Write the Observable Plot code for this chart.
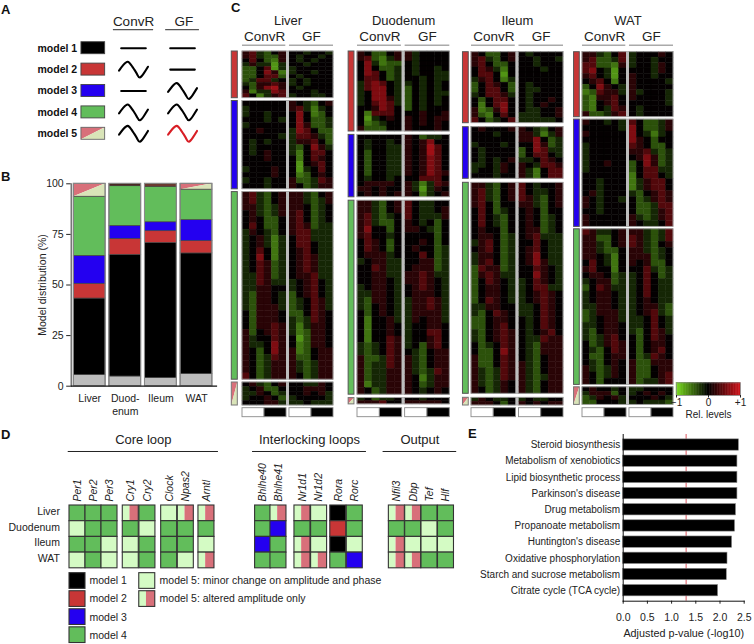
<!DOCTYPE html>
<html><head><meta charset="utf-8">
<script src="https://cdn.jsdelivr.net/npm/d3@7"></script>
<script src="https://cdn.jsdelivr.net/npm/@observablehq/plot@0.6"></script>
<style>
html,body{margin:0;padding:0;background:#fff}
#root{position:relative;width:754px;height:644px;overflow:hidden;font-family:"Liberation Sans",Arial,sans-serif;color:#222}
#root svg{position:absolute;overflow:visible;background:transparent;font-family:"Liberation Sans",Arial,sans-serif}
.tag{position:absolute;font-weight:bold;font-size:13px;line-height:13px;color:#111}
</style></head><body><div id="root"></div>
<script>
// ---------- shared ----------
const GREEN="#62bd5b",RED="#c83636",BLUE="#2400f0",BLACK="#000",PINK="#d8707a",CREAM="#d9e4b8",LIGHT="#d4fbc4",GRAY="#bdbdbd";
const modelNames=["model 1","model 2","model 3","model 4","model 5"];
const modelColors=[BLACK,RED,BLUE,GREEN,null];

// ---------- panel A ----------
const convRProfile=["flat","wave","flat","wave","wave"];
const gfProfile=["flat","flat","wave","wave","redwave"];
const waveShape=[[-1,-.12],[-.7,.6],[-.4,1],[-.15,.55],[.07,-.04],[.25,-.6],[.44,-1],[.72,-.45],[1,.36]];
const flatShape=[[-.85,0],[.85,0]];

// ---------- panel B ----------
const tissuesB=["Liver","Duod-\nenum","Ileum","WAT"];
const shareGray=[5.6,4.8,4.1,6.1];
const shareModel1=[37.7,60.1,66.7,59.5];
const shareModel2=[7.3,7.9,5.8,6.1];
const shareModel3=[13.8,6.4,4.4,10.4];
const shareModel4=[29.2,19.6,17.5,15.0];
const shareModel5=[6.4,1.2,1.5,2.9];

// ---------- panel C: each string is one band of genes, 6 ConvR + 6 GF time points, level 1 (green) .. 5 (black) .. 9 (red)
const levelValue=[-.66,-.52,-.36,-.17,0.02,.2,.4,.62,.78];
const liverModel2=["674356554554","674336545545","575326545455","464414554555","335714455555","335862455455","335773545555","347745454555","436676454555","536896545555","624487555455","752467455445"];
const liverModel3=["555555654356","455555674245","455455585235","555454585334","455555586334","556555487533","555554477643","545455466753","545555435864","545655425775","555655525765","555555515675","455565514575","555565523565","455455633476","555455653466"];
const liverModel4=["674356664356","674356664346","664346665345","564346675345","565335675345","575335676344","465435677444","456424577444","456424577544","457524567544","458524567644","457634567644","457634567644","447634566744","447644456754","446655456754","436654356754","436654345764","436664345764","536665335765","536665434765","536676424665","635676423665","645576513665","644586523665","653586623566","653476633566","653466643466","653466643466","753466653466"];
const liverModel5=["564356554465","456335556665","446534556564","455653455554","555664445444"];
const duodModel2=["653356645555","673246645555","584233545555","585334545545","587534545544","577534554544","478754454545","478854354545","458854354544","458864354545","457874354545","556875354555","527775556556","514565656566","523455656565","633355655565"];
const duodModel3=["555555653445","545545656855","545544656975","535544656975","535544656875","535544656875","535544656875","535544656876","545545557775","566665642476","665655641465","565656652456"];
const duodModel4=["664356754455","664356754456","674345754446","674335654535","685535665435","675545555535","576535556535","576535565534","566645557534","456644556634","557644566634","556644667644","556654667654","456654567654","446654566654","436654466764","435654466764","535654466664","525564465664","525565455665","525565455775","525576455675","434576453675","434576543566","633476643566","634476643566","634466643476","634466652466","624466653466","653466654565"];
const duodModel5=["453445554555","666755666665"];
const ileumModel2=["653356545555","674356554554","675335554555","576425555455","577515555555","467524555555","357653545555","357753544555","457764545555","535775545565","525785545655","623685544556","632575444556","753457444445"];
const ileumModel3=["565556654356","555455664246","555555668534","455545558634","545555358744","545555357754","545456445765","445465654776","455465642577","555455642577"];
const ileumModel4=["664356754556","674356754456","674356764356","675355664356","575345565355","575435565345","575435565345","565535566345","566534567444","467534557544","567534567544","466534568544","467534568644","376634557654","367644558654","357654457654","356654457744","356654456765","357654456765","446655445765","435765445765","335665545765","335675545765","435676545675","435676544766","534576543666","533586543666","633576543566","633576643566","643476643566","643476643466","643465643566","653465643566"];
const ileumModel5=["465445454455","666535656566"];
const watModel2=["664357455565","673347455455","773326455465","785415555465","675415655455","567525655554","358654655555","237664645554","326675655554","325675555554","325476545555","633467545555"];
const watModel3=["655454753346","555554853346","655555854245","555555865355","455555765335","455555667434","455555568634","455655358634","455555357744","555555257754","554555246775","554555246775","564555435676","654554534676","654555533477","554555533467","655555643467","655555654457"];
const watModel4=["764456664347","663356764347","664356764356","664335664345","665425666345","575425656335","675525557434","566534457534","456634457544","357644457544","456654457544","456654456544","446654456643","346664456743","345664445754","445665445754","435665435764","434675535765","534676535665","543576535675","533566534765","543565633666","643465633566","653465633567","653555634467"];
const watModel5=["565545445555","466635456565","346564555654","335554454443"];

const tissueTitle=["Liver","Duodenum","Ileum","WAT"];
const conditions=["ConvR","GF"];
const lightPhase=["light","dark"];
const geneCounts=[
  [46.7,88.3,187.6,23],
  [80,62.4,194,6.3],
  [71,51.6,211,7.7],
  [65,107.3,155.6,17.6]
];
const tissueRows=[
  [liverModel2,liverModel3,liverModel4,liverModel5],
  [duodModel2,duodModel3,duodModel4,duodModel5],
  [ileumModel2,ileumModel3,ileumModel4,ileumModel5],
  [watModel2,watModel3,watModel4,watModel5]
];
const blockModels=[1,2,3,4];

// ---------- panel D ----------
const genes=["Per1","Per2","Per3","Cry1","Cry2","Clock","Npas2","Arntl","Bhlhe40","Bhlhe41","Nr1d1","Nr1d2","Rora","Rorc","Nfil3","Dbp","Tef","Hlf"];
const geneGroups=["Core loop","Interlocking loops","Output"];
const tissueD=["Liver","Duodenum","Ileum","WAT"];
const liverGenes=["4","4","4","a","4","m","a","a","4","a","a","m","1","4","a","a","4","4"];
const duodGenes=["m","4","4","4","m","4","4","4","4","3","4","4","2","4","4","4","m","4"];
const ileumGenes=["4","4","m","m","4","4","4","m","3","4","a","m","1","m","a","m","m","m"];
const watGenes=["m","4","m","m","4","4","m","a","4","4","a","a","4","3","a","a","4","4"];

// ---------- panel E ----------
const pathways=["Steroid biosynthesis","Metabolism of xenobiotics","Lipid biosynthetic process","Parkinson's disease","Drug metabolism","Propanoate metabolism","Huntington's disease","Oxidative phosphorylation","Starch and sucrose metabolism","Citrate cycle (TCA cycle)"];
const adjustedP=[2.39,2.36,2.36,2.36,2.33,2.31,2.25,2.155,2.14,1.96];

// ---------- helpers ----------
const root=document.getElementById("root");
function place(svg,left,top){svg.style.left=left+"px";svg.style.top=top+"px";root.appendChild(svg);}
function tag(t,l,y){const s=document.createElement("span");s.className="tag";s.textContent=t;s.style.left=l+"px";s.style.top=y+"px";root.appendChild(s);}
// model 5 glyph: red upper-left triangle, cream lower-right triangle
function splitBox(x0,x1,yTop,yBot,stroke,sw){
  return [
    Plot.areaY([{x:x0,a:yBot,b:yTop},{x:x1,a:yTop,b:yTop}],{x:"x",y1:"a",y2:"b",fill:PINK}),
    Plot.areaY([{x:x0,a:yBot,b:yBot},{x:x1,a:yBot,b:yTop}],{x:"x",y1:"a",y2:"b",fill:CREAM}),
    Plot.rect([{x0,x1,yTop,yBot}],{x1:"x0",x2:"x1",y1:"yTop",y2:"yBot",fill:"none",stroke,strokeWidth:sw})
  ];
}

// ---------- draw A ----------
(function(){
  const col={swatch:0,ConvR:1,GF:2.22};
  const halfW=.36,rowAmp=.37;
  const glyph=(profile,c)=>{
    const out=[];
    profile.forEach((kind,r)=>{
      const shape=kind==="flat"?flatShape:waveShape;
      const stroke=kind==="redwave"?"#d81e25":"#000";
      out.push(Plot.line(shape,{x:d=>c+d[0]*halfW,y:d=>r-d[1]*rowAmp,curve:"natural",stroke,strokeWidth:2.1}));
    });
    return out;
  };
  const swatch=.295,swH=.28;
  const marks=[
    Plot.text(modelNames,{x:()=>-.4,y:(d,i)=>i,text:d=>d,textAnchor:"end",fontWeight:"bold",fontSize:10.5,fill:"#111"}),
    ...modelColors.slice(0,4).map((c,i)=>Plot.rect([i],{x1:()=>-swatch,x2:()=>swatch,y1:d=>d-swH,y2:d=>d+swH,fill:c,stroke:"#444",strokeWidth:.9})),
    ...splitBox(-swatch,swatch,4-swH,4+swH,"#666",.9),
    ...glyph(convRProfile,col.ConvR),
    ...glyph(gfProfile,col.GF),
    Plot.text(conditions,{x:(d,i)=>i?col.GF+.03:col.ConvR,y:()=>-1.22,text:d=>d,fontSize:13.5,fill:"#222"}),
    Plot.ruleY(conditions,{x1:(d,i)=>i?col.GF-.42:col.ConvR-.5,x2:(d,i)=>i?col.GF+.42:col.ConvR+.5,y:()=>-.87,stroke:"#555",strokeWidth:1.1})
  ];
  place(Plot.plot({width:220,height:160,margin:0,
    x:{domain:[0,1],range:[92.8,133]},y:{domain:[0,1],range:[47.7,69.1]},axis:null,marks}),0,0);
})();

// ---------- draw B ----------
(function(){
  const series=[["gray",shareGray,GRAY],["m1",shareModel1,BLACK],["m2",shareModel2,RED],["m3",shareModel3,BLUE],["m4",shareModel4,GREEN]];
  const half=.447;
  const marks=[];
  tissuesB.forEach((t,i)=>{
    let c=0;
    series.forEach(([n,arr,col])=>{
      const y1=c,y2=c+arr[i];c=y2;
      marks.push(Plot.rect([{i,y1,y2}],{x1:d=>d.i-half,x2:d=>d.i+half,y1:"y1",y2:"y2",fill:col,stroke:"#444",strokeWidth:.7}));
    });
    if(i===0||i===3) marks.push(...splitBox(i-half,i+half,100,c,"#444",.7));
    else marks.push(Plot.rect([{i,c}],{x1:d=>d.i-half,x2:d=>d.i+half,y1:"c",y2:()=>100,fill:i===1?"#4a2a22":"#6a3a30",stroke:"#333",strokeWidth:.4}));
    marks.push(Plot.rect([i],{x1:d=>d-half,x2:d=>d+half,y1:()=>0,y2:()=>100,fill:"none",stroke:"#8a8a8a",strokeWidth:1.1}));
  });
  place(Plot.plot({width:220,height:240,marginLeft:70.7,marginRight:4,marginTop:8.3,marginBottom:29.3,
    x:{domain:[0,3],range:[89.2,196]},y:{domain:[0,100]},
    marks:[...marks,
      Plot.axisY({ticks:[0,25,50,75,100],tickSize:4.5,tickPadding:3,fontSize:10.5,label:"Model distribution (%)",labelAnchor:"center",labelArrow:"none",labelOffset:33}),
      Plot.axisX({ticks:[0,1,2,3],tickFormat:i=>tissuesB[i],tickSize:0,tickPadding:7,fontSize:10.5,lineHeight:1.2,label:null}),
      Plot.frame({anchor:"left",stroke:"#555",strokeWidth:1.2}),
      Plot.frame({anchor:"bottom",stroke:"#111",strokeWidth:1.2})
    ]}),0,175);
})();

// ---------- draw C ----------
const heatColor={type:"linear",domain:[-1,0,1],range:["#7be01e","#000","#cc141c"]};
(function(){
  const heatLeft=[241.7,357,470.7,581.7],heatWidth=[91,92.3,92,91];
  const sideNear=[.64,.41,.37,.37],sideFar=[1.46,1.19,1.15,1.15];
  const gapAfter=[2.8,3.4,4,2.4],startAt=[0,0,.7,.7];
  const dividerEnd=6.4,colsEnd=12.4;
  tissueTitle.forEach((title,t)=>{
    const cells=[],blocks=[];
    let y=startAt[t];
    tissueRows[t].forEach((rows,b)=>{
      const h=geneCounts[t][b],rh=h/rows.length;
      rows.forEach((s,r)=>{
        [...s].forEach((ch,c)=>{
          cells.push({x1:c<6?c:c+.4,x2:(c<6?c:c+.4)+1,y1:y+r*rh,y2:y+(r+1)*rh,v:levelValue[+ch-1]});
        });
      });
      blocks.push({y1:y,y2:y+h,model:blockModels[b]});
      y+=h+gapAfter[t];
    });
    const marks=[
      Plot.rect(cells,{x1:"x1",x2:"x2",y1:"y1",y2:"y2",fill:"v",stroke:"v",strokeWidth:.45}),
      Plot.rect(blocks,{x1:()=>6,x2:()=>dividerEnd,y1:"y1",y2:"y2",fill:"#bdbdbd"}),
      Plot.rect(blocks,{x1:()=>0,x2:()=>colsEnd,y1:"y1",y2:"y2",fill:"none",stroke:"#a8a8a8",strokeWidth:.9})
    ];
    blocks.forEach(b=>{
      if(b.model===4) marks.push(...splitBox(-sideFar[t],-sideNear[t],b.y1,b.y2,"#777",1));
      else marks.push(Plot.rect([b],{x1:()=>-sideFar[t],x2:()=>-sideNear[t],y1:"y1",y2:"y2",fill:modelColors[b.model],stroke:"#555",strokeWidth:1}));
    });
    // light/dark bars
    const barTop=356.7,barBot=365.7;
    [0,dividerEnd].forEach(x0=>{
      lightPhase.forEach((ph,i)=>marks.push(Plot.rect([ph],{x1:()=>x0+i*3,x2:()=>x0+i*3+3,y1:()=>barTop,y2:()=>barBot,fill:ph==="light"?"#fff":"#000",stroke:"#8a8a8a",strokeWidth:.9})));
    });
    marks.push(
      Plot.text([title],{x:()=>dividerEnd-.2,y:()=>-30.3,text:d=>d,fontSize:13,fill:"#222"}),
      Plot.text(conditions,{x:(d,i)=>i?9.4:3,y:()=>-15.3,text:d=>d,fontSize:13.5,fill:"#222"}),
      Plot.ruleY(conditions,{x1:(d,i)=>i?dividerEnd:0,x2:(d,i)=>i?colsEnd:5.9,y:()=>-6.3,stroke:"#aaa",strokeWidth:1.4})
    );
    place(Plot.plot({width:heatWidth[t]+30,height:426,margin:0,axis:null,
      x:{domain:[0,colsEnd],range:[20,20+heatWidth[t]]},
      y:{domain:[-51,375],range:[0,426]},
      color:heatColor,marks}),heatLeft[t]-20,0);
  });
  // colour legend
  const stops=d3.range(-1,1,.05);
  place(Plot.plot({width:94,height:60,marginLeft:16,marginRight:14,marginTop:12.3,marginBottom:35,
    x:{domain:[-1,1]},color:heatColor,
    marks:[
      Plot.rect(stops,{x1:d=>d,x2:d=>d+.05,fill:d=>d+.025,stroke:d=>d+.025,strokeWidth:.5}),
      Plot.frame({stroke:"#888",strokeWidth:.8}),
      Plot.axisX({ticks:[-1,0,1],tickFormat:d=>d<0?"−1":d>0?"+1":"0",tickSize:2.5,tickPadding:1,fontSize:10,label:"Rel. levels",labelAnchor:"center",labelArrow:"none",labelOffset:22})
    ]}),660,370);
})();

// ---------- draw D ----------
(function(){
  const slot=[0,1,2,3.33,4.37,5.73,6.77,8.06,11.6,12.56,14.06,15.1,16.3,17.33,19.96,20.98,22,23.03];
  const tissueGenes=[liverGenes,duodGenes,ileumGenes,watGenes];
  const groupX1=[-.08,11.44,19.6],groupX2=[9.31,18.56,24.2];
  const modelFill={"1":BLACK,"2":RED,"3":BLUE,"4":GREEN,"m":LIGHT};
  const tile=(x,y,code,h=1)=>{
    if(code==="a") return [
      Plot.rect([0],{x1:()=>x,x2:()=>x+.45,y1:()=>y,y2:()=>y+h,fill:LIGHT}),
      Plot.rect([0],{x1:()=>x+.45,x2:()=>x+1,y1:()=>y,y2:()=>y+h,fill:PINK}),
      Plot.rect([0],{x1:()=>x,x2:()=>x+1,y1:()=>y,y2:()=>y+h,fill:"none",stroke:"#333",strokeWidth:1.1})
    ];
    return [Plot.rect([0],{x1:()=>x,x2:()=>x+1,y1:()=>y,y2:()=>y+h,fill:modelFill[code],stroke:"#333",strokeWidth:1.1})];
  };
  const marks=[];
  tissueGenes.forEach((row,r)=>row.forEach((code,g)=>marks.push(...tile(slot[g],r,code))));
  const legendLeft=["1","2","3","4"],legendRight=["m","a"];
  const legendRightText=["model 5: minor change on amplitude and phase","model 5: altered amplitude only"];
  legendLeft.forEach((c,i)=>marks.push(...tile(0,4.31+1.15*i,c)));
  legendRight.forEach((c,i)=>marks.push(...tile(4.36,4.31+1.15*i,c)));
  marks.push(
    Plot.text(genes,{x:(d,i)=>slot[i]+.5,y:()=>-.25,text:d=>d,rotate:-90,textAnchor:"start",fontStyle:"italic",fontSize:10.5,fill:"#222"}),
    Plot.text(tissueD,{x:()=>-.6,y:(d,i)=>i+.38,text:d=>d,textAnchor:"end",fontSize:10.5,fill:"#222"}),
    Plot.text(geneGroups,{x:(d,i)=>(groupX1[i]+groupX2[i])/2,y:()=>-4.2,text:d=>d,fontSize:13,fill:"#222"}),
    Plot.ruleY(geneGroups,{x1:(d,i)=>groupX1[i],x2:(d,i)=>groupX2[i],y:()=>-3.44,stroke:"#222",strokeWidth:1}),
    Plot.text(legendLeft,{x:()=>1.25,y:(d,i)=>4.81+1.15*i,text:d=>modelNames[+d-1],textAnchor:"start",fontSize:10.5,fill:"#222"}),
    Plot.text(legendRightText,{x:()=>5.63,y:(d,i)=>4.81+1.15*i,text:d=>d,textAnchor:"start",fontSize:10.5,fill:"#222"})
  );
  place(Plot.plot({width:470,height:219,margin:0,axis:null,
    x:{domain:[0,1],range:[69,85]},y:{domain:[0,1],range:[80,95.7]},marks}),0,425);
})();

// ---------- draw E ----------
(function(){
  place(Plot.plot({width:289,height:219,marginLeft:157.7,marginRight:10.3,marginTop:9,marginBottom:43.3,
    x:{domain:[0,2.5]},y:{domain:pathways,padding:.3,round:false},
    marks:[
      Plot.ruleX([1.3],{stroke:"#d9434e",strokeWidth:.9}),
      Plot.barX(pathways,{y:d=>d,x:(d,i)=>adjustedP[i],fill:"#000",stroke:"#888",strokeWidth:.6}),
      Plot.axisY({tickSize:0,tickPadding:3,fontSize:10,label:null}),
      Plot.axisX({ticks:[0,.5,1,1.5,2,2.5],tickFormat:".1f",tickSize:3,tickPadding:9,fontSize:10.5,label:null}),
      Plot.text(["Adjusted p-value (-log10)"],{x:()=>1.25,frameAnchor:"bottom",dy:36,text:d=>d,fontSize:10.8,fill:"#222"}),
      Plot.frame({anchor:"left",stroke:"#111"}),
      Plot.frame({anchor:"bottom",stroke:"#111"})
    ]}),465,425);
})();

tag("A",1,3);tag("B",1,170);tag("C",231,1);tag("D",1,428);tag("E",468,427);
</script></body></html>
